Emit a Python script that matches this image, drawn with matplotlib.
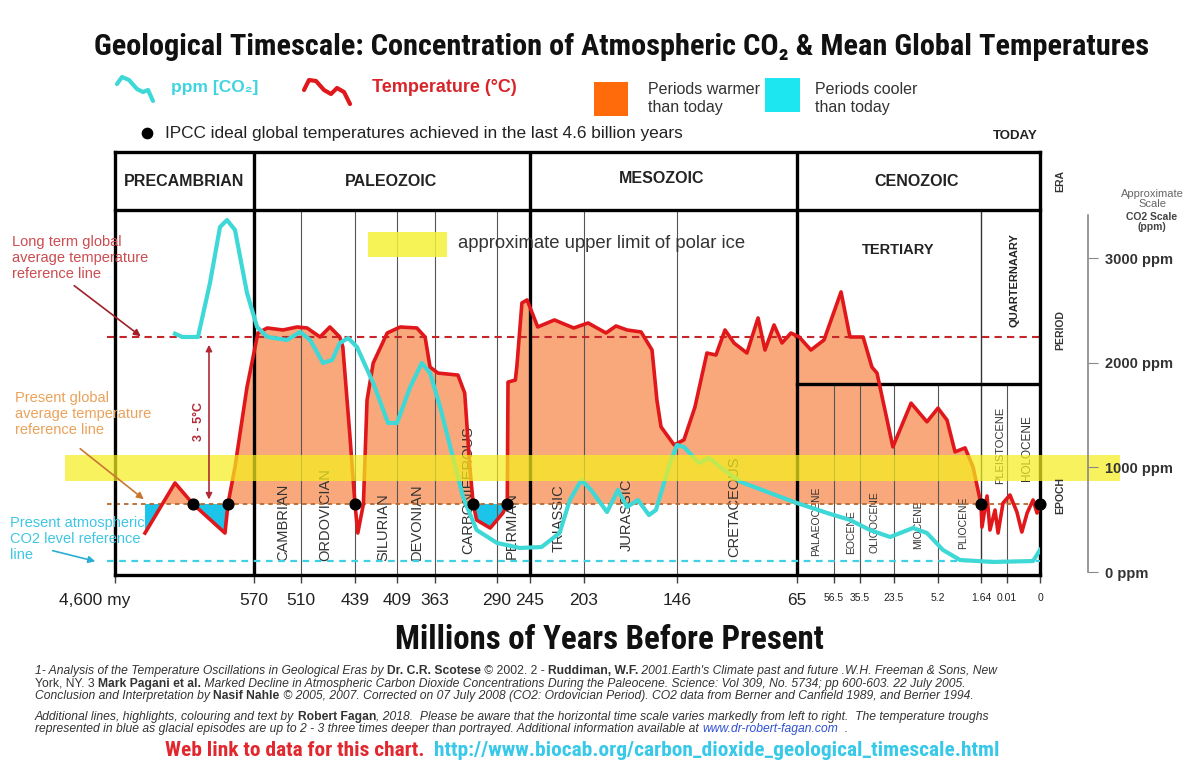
import numpy as np
import matplotlib
matplotlib.use("Agg")
import matplotlib.pyplot as plt
from matplotlib import font_manager
from matplotlib.patches import Rectangle
from matplotlib.ticker import NullLocator
from matplotlib.transforms import ScaledTranslation

W, H = 1189, 778


def has_font(name):
    try:
        font_manager.findfont(font_manager.FontProperties(family=name),
                              fallback_to_default=False)
        return True
    except Exception:
        return False


def first_font(names):
    for n in names:
        if has_font(n):
            return n
    return "Liberation Sans"


NARROW = first_font(["Liberation Sans Narrow", "Liberation Sans"])
COND = first_font(["Liberation Sans Narrow", "Roboto Condensed",
                   "Open Sans Condensed", "Liberation Sans"])
plt.rcParams["font.family"] = ["Liberation Sans", "DejaVu Sans"]

# ----------------------------------------------------------------------------
# Data (ages in millions of years before present)
# ----------------------------------------------------------------------------
BOUND_AGE = [4600, 570, 510, 439, 409, 363, 290, 245, 203, 146,
             65, 56.5, 35.5, 23.5, 5.2, 1.64, 0.01, 0]
BOUND_LABEL = ["4,600 my", "570", "510", "439", "409", "363", "290", "245",
               "203", "146", "65", "56.5", "35.5", "23.5", "5.2", "1.64",
               "0.01", "0"]
ERA_BOUNDS = [570, 245, 65]
PERIOD_BOUNDS = [510, 439, 409, 363, 290, 203, 146]
EPOCH_BOUNDS = [56.5, 35.5, 23.5, 5.2, 0.01]
QUAT_BOUND = 1.64

TEMP_AGE = [3730, 2861, 2339, 1411, 1324, 1121, 773,
            565, 553, 533, 515, 502, 485, 472, 459, 455, 446, 439, 437, 433, 430.4, 426, 416,
            405, 385, 375, 369, 359.5, 336, 328, 322, 318, 314, 298, 282, 276, 275, 265, 263, 256, 249,
            239, 226, 211, 200.5, 189.5, 183.4, 176.6, 168, 161.3, 158.3, 155.8, 147.8,
            141.3, 133.9, 125.8, 119.7, 113.6, 107.5, 98.8, 91.3, 86.6, 80.5, 75.1, 69.1,
            64.5, 61.8, 58.8, 50.8, 43.6, 34.4, 31.3, 29.5, 23.9, 16.4, 9.8, 5.2, 4.45, 3.79, 2.96, 2.30, 1.64,
            1.58, 1.26, 1.08, 0.76, 0.57, 0.26, 0.0091, 0.0070, 0.0055, 0.0039, 0.0021, 0.0009, 0]
TEMP_C = [13.13, 14.63, 14.0, 13.13, 14.0, 15.11, 17.50,
          19.12, 19.27, 19.21, 19.30, 19.27, 19.0, 19.30, 19.0, 18.70, 16.13, 14.0, 13.13, 14.0, 17.11, 18.22, 19.12,
          19.30, 19.27, 19.0, 18.10, 17.92, 17.86, 17.32, 15.11, 14.0, 13.52, 13.28, 13.73, 14.0, 17.65, 17.71, 18.10, 20.02, 20.11,
          19.30, 19.51, 19.27, 19.42, 19.12, 19.33, 19.21, 19.15, 18.61, 17.11, 16.31, 15.77,
          15.92, 16.90, 18.52, 18.46, 19.21, 18.82, 18.52, 19.57, 18.61, 19.36, 18.82, 19.12,
          19.0, 18.61, 18.91, 20.35, 19.0, 19.0, 18.10, 17.92, 15.71, 17.02, 16.46, 16.87, 16.51, 15.56, 15.68, 15.11, 14.0,
          13.31, 14.24, 13.22, 13.82, 13.13, 14.03, 14.27, 13.76, 13.16, 13.73, 14.12, 13.73, 13.97]

CO2_AGE = [2861, 2650, 2194, 1846, 1556, 1353, 1121, 773,
           566, 553, 528, 511, 498, 481, 469, 459, 448, 437.6, 426, 415.4, 409, 393, 379, 369,
           357, 345, 330, 314, 290, 259, 236, 222, 214, 205,
           198.7, 188.9, 182.2, 176.6, 169.9, 163.2, 158.9, 150.3, 146, 141.3, 131.2, 124.4, 114.3, 102.8, 83.2, 65,
           58.1, 43.6, 32.0, 24.9, 15.6, 9.8, 4.79, 3.38, 0.89, 0.0021, 0]
CO2_PPM = [2280, 2249, 2249, 2766, 3301, 3368, 3273, 2670,
           2344, 2249, 2220, 2297, 2220, 2000, 2029, 2191, 2239, 2153, 1809, 1426, 1426, 1770, 2000, 1904,
           1579, 1196, 718, 402, 278, 230, 239, 373, 689, 880,
           785, 574, 785, 622, 689, 545, 593, 1043, 1215, 1196, 1043, 1091, 976, 861, 756, 660,
           565, 498, 402, 335, 421, 373, 211, 115, 96, 105, 211]

IPCC_AGE = [2339, 1324, 439, 318, 276, 1.64, 0]
PRESENT_T = 14.0
LONGTERM_T = 19.0
PRESENT_CO2 = 105
ICE_T = (14.69, 15.47)
PPM_TICKS = [0, 1000, 2000, 3000]

assert len(TEMP_AGE) == len(TEMP_C)
assert len(CO2_AGE) == len(CO2_PPM)

# ----------------------------------------------------------------------------
# Layout (pixel positions on the 1189 x 778 canvas)
# ----------------------------------------------------------------------------
BOUND_PX = [115, 254, 301, 355, 397, 435, 497, 530, 584, 677,
            797, 834, 860, 894, 938, 981, 1007, 1040]
AX_L, AX_T, AX_R, AX_B = 115, 152, 1040, 575
ROW_Y, EPOCH_Y = 210, 384
T_LIM = (11.874, 24.539)
PPM_LIM = (-28.7, 4019)

_age_asc = np.array(BOUND_AGE[::-1], dtype=float)
_dist_asc = np.array([AX_R - p for p in BOUND_PX[::-1]], dtype=float)


def fwd(a):
    return np.interp(a, _age_asc, _dist_asc)


def inv(d):
    return np.interp(d, _dist_asc, _age_asc)


def frac_y(py):
    return (AX_B - py) / (AX_B - AX_T)


ORANGE_FILL = "#f9a87c"
CYAN_FILL = "#1cc4ea"
RED = "#e0181c"
CYAN = "#3ed8d6"
GREY = "#333333"

fig = plt.figure(figsize=(W / 100, H / 100), dpi=100)
fig.patch.set_facecolor("white")
renderer = fig.canvas.get_renderer()


def fit(texts, width):
    """Scale font sizes so that a text (or a chain of texts) spans width px."""
    if not isinstance(texts, list):
        texts = [texts]
    x0 = min(t.get_window_extent(renderer).x0 for t in texts)
    x1 = max(t.get_window_extent(renderer).x1 for t in texts)
    k = width / (x1 - x0)
    for t in texts:
        t.set_fontsize(t.get_fontsize() * k)
    return texts[0].get_fontsize()


lay = fig.add_axes([0, 0, 1, 1], zorder=10)
lay.set_xlim(0, W)
lay.set_ylim(H, 0)
lay.axis("off")
lay.patch.set_visible(False)

ax = fig.add_axes([AX_L / W, 1 - AX_B / H, (AX_R - AX_L) / W, (AX_B - AX_T) / H])
ax.set_xscale("function", functions=(fwd, inv))
ax.set_xlim(4600, 0)
ax.set_ylim(*T_LIM)
ax.patch.set_visible(False)
for s in ax.spines.values():
    s.set_linewidth(2.4)
    s.set_color("black")

# fills relative to present-day temperature
t = np.array(TEMP_C)
a = np.array(TEMP_AGE)
ax.fill_between(a, t, PRESENT_T, where=t >= PRESENT_T, interpolate=True,
                color=ORANGE_FILL, lw=0, zorder=1)
glacial = (t <= PRESENT_T) & ((a > 570) | ((a < 330) & (a > 260)))
ax.fill_between(a, t, PRESENT_T, where=glacial, interpolate=True,
                color=CYAN_FILL, lw=0, zorder=1)

# grid of eras / periods / epochs
row = frac_y(ROW_Y)
ep = frac_y(EPOCH_Y)
for b in ERA_BOUNDS:
    ax.axvline(b, color="black", lw=2.4, zorder=3)
for b in PERIOD_BOUNDS:
    ax.axvline(b, ymax=row, color="#555555", lw=0.8, zorder=1.5)
ax.axvline(QUAT_BOUND, ymax=row, color="#333333", lw=1.0, zorder=1.5)
for b in EPOCH_BOUNDS:
    ax.axvline(b, ymax=ep, color="#555555", lw=0.8, zorder=1.5)
ax.plot([0, 1], [row, row], transform=ax.transAxes, color="black", lw=2.4,
        zorder=3, clip_on=False)
ax.plot([65, 0], [ep, ep], transform=ax.get_xaxis_transform(), color="black",
        lw=2.4, zorder=3)

# reference lines
xmin_ext = (107 - AX_L) / (AX_R - AX_L)
ax.axhline(LONGTERM_T, xmin=xmin_ext, color="#c4262c", lw=1.5,
           ls=(0, (3.5, 2.5)), zorder=2.5, clip_on=False)
ax.axhline(PRESENT_T, xmin=xmin_ext, color="#b8692c", lw=1.3,
           ls=(0, (2.5, 2.2)), zorder=2.5, clip_on=False)

# rotated period / epoch names
names = [("CAMBRIAN", 283, 522, 10.5), ("ORDOVICIAN", 325, 515, 10.5),
         ("SILURIAN", 383, 527, 10.5), ("DEVONIAN", 417, 522, 10.5),
         ("CARBONIFEROUS", 468, 490, 10.5), ("PERMIAN", 512, 526, 10.5),
         ("TRIASSIC", 559, 518, 10.5), ("JURASSIC", 627, 515, 10.5),
         ("CRETACEOUS", 734, 507, 10.5), ("PALAEOCENE", 816, 521, 7.5),
         ("EOCENE", 851, 532, 7.5), ("OLIGOCENE", 874, 522, 7.5),
         ("MIOCENE", 918, 525, 7.5), ("PLIOCENE", 963, 523, 7.5),
         ("PLEISTOCENE", 1000, 445, 8), ("HOLOCENE", 1027, 448, 8.5)]
for nm, x, y, fs in names:
    ax.text(x, y, nm, transform=lay.transData, rotation=90, ha="center",
            va="center", fontsize=fs, color=GREY, family=NARROW, zorder=2)

ax.plot(a, t, color=RED, lw=2.6, zorder=4, solid_joinstyle="round")

# bottom ticks
ax.set_xticks(BOUND_AGE)
ax.set_xticklabels(BOUND_LABEL)
ax.xaxis.set_minor_locator(NullLocator())
ax.tick_params(axis="x", direction="out", length=6, width=1, color="#444444",
               pad=7)
for lab, age in zip(ax.get_xticklabels(), BOUND_AGE):
    lab.set_family(NARROW)
    lab.set_color("#222222")
    lab.set_fontsize(12.5 if age >= 65 else 7.5)
    if age == 4600:
        lab.set_transform(lab.get_transform() +
                          ScaledTranslation(-0.2, 0, fig.dpi_scale_trans))

# CO2 on its own scale
cax = ax.twinx()
cax.set_ylim(*PPM_LIM)
cax.axis("off")
cax.axhline(PRESENT_CO2, xmin=xmin_ext, color="#3fd0e4", lw=1.6,
            ls=(0, (3, 2.5)), clip_on=False)
cax.plot(CO2_AGE, CO2_PPM, color=CYAN, lw=3.0, solid_joinstyle="round")

# ice band, IPCC dots, 3-5 C arrow
bax = ax.twinx()
bax.set_ylim(*T_LIM)
bax.axis("off")
bax.axhspan(ICE_T[0], ICE_T[1], xmin=(65 - AX_L) / (AX_R - AX_L),
            xmax=(1120 - AX_L) / (AX_R - AX_L), color="#f5ee1e", alpha=0.72,
            lw=0, clip_on=False)
bax.scatter(IPCC_AGE, [PRESENT_T] * len(IPCC_AGE), s=60, color="black",
            zorder=5, clip_on=False)
bax.annotate("", xy=(1875, PRESENT_T + 0.05), xytext=(1875, LONGTERM_T - 0.15),
             arrowprops=dict(arrowstyle="<|-|>", color="#b02a36", lw=1.2,
                             mutation_scale=9))

# twinx turns the host's left ticks back on
ax.tick_params(axis="y", left=False, right=False, labelleft=False,
               labelright=False)

# CO2 scale on the right
sax = fig.add_axes([1080 / W, 1 - AX_B / H, 8 / W, (AX_B - AX_T) / H])
sax.set_ylim(*PPM_LIM)
sax.patch.set_visible(False)
for k in ["left", "top", "bottom"]:
    sax.spines[k].set_visible(False)
sax.spines["right"].set_color("#888888")
sax.spines["right"].set_linewidth(1.2)
sax.spines["right"].set_bounds(0, 3416)
sax.set_xticks([])
sax.yaxis.tick_right()
sax.set_yticks(PPM_TICKS)
sax.set_yticklabels([f"{v} ppm" for v in PPM_TICKS])
sax.tick_params(axis="y", direction="out", length=7, color="#888888", pad=5,
                labelsize=10.5, labelcolor=GREY)
for lab in sax.get_yticklabels():
    lab.set_fontweight("bold")

# ----------------------------------------------------------------------------
# Text layer
# ----------------------------------------------------------------------------
title = lay.text(622, 47, "Geological Timescale: Concentration of Atmospheric CO\u2082 & Mean Global Temperatures",
                 ha="center", va="center", fontsize=20, fontweight="bold",
                 family=[COND, "DejaVu Sans"], color="#111111")
fit(title, 1055)

lay.plot([117, 122, 129, 137, 143, 148, 153], [84, 77, 80, 89, 92, 90, 101],
         color=CYAN, lw=3, solid_capstyle="round")
lay.text(171, 87, "ppm [CO\u2082]", ha="left", va="center", fontsize=12.5,
         fontweight="bold", color="#40d4e0", family=[NARROW, "DejaVu Sans"])
lay.plot([304, 309, 316, 324, 331, 337, 344, 350], [90, 80, 81, 90, 94, 88, 92, 104],
         color=RED, lw=3, solid_capstyle="round")
lay.text(372, 87, "Temperature (\u00b0C)", ha="left", va="center",
         fontsize=13, fontweight="bold", color="#d8252a", family=NARROW)

lay.add_patch(Rectangle((594, 82), 34, 34, color="#ff6a0a", lw=0))
lay.text(648, 98, "Periods warmer\nthan today", ha="left", va="center",
         fontsize=11.5, color=GREY, linespacing=1.25)
lay.add_patch(Rectangle((765, 78), 35, 34, color="#1ee6f0", lw=0))
lay.text(815, 98, "Periods cooler\nthan today", ha="left", va="center",
         fontsize=11.5, color=GREY, linespacing=1.25)

lay.scatter([147], [133], s=55, color="black")
ipcc = lay.text(165, 133, "IPCC ideal global temperatures achieved in the last 4.6 billion years",
                ha="left", va="center", fontsize=9.5, color="#222222")
fit(ipcc, 518)
lay.text(1038, 136, "TODAY", ha="right", va="center", fontsize=9.5,
         fontweight="bold", color="#222222")

for nm, x, y in [("PRECAMBRIAN", 184, 181), ("PALEOZOIC", 391, 181),
                 ("MESOZOIC", 662, 178), ("CENOZOIC", 917, 181)]:
    lay.text(x, y, nm, ha="center", va="center", fontsize=11.5,
             fontweight="bold", family=NARROW, color="#222222")
lay.text(898, 250, "TERTIARY", ha="center", va="center", fontsize=10.5,
         fontweight="bold", family=NARROW, color="#222222")
lay.text(1014, 280, "QUARTERNAARY", ha="center", va="center", rotation=90,
         fontsize=8, fontweight="bold", family=NARROW, color="#222222")
for nm, y in [("ERA", 181), ("PERIOD", 330), ("EPOCH", 495)]:
    lay.text(1060, y, nm, ha="center", va="center", rotation=90, fontsize=7.5,
             fontweight="bold", color="#333333")

lay.text(1152, 199, "Approximate\nScale", ha="center", va="center",
         fontsize=8, color="#666666", linespacing=1.1)
lay.text(1152, 222, "CO2 Scale\n(ppm)", ha="center", va="center",
         fontsize=7.5, fontweight="bold", color="#444444", linespacing=1.1)

lay.add_patch(Rectangle((368, 232), 79, 25, color="#f5f23a", alpha=0.85, lw=0))
polar = lay.text(458, 243, "approximate upper limit of polar ice", ha="left",
                 va="center", fontsize=11.5, color="#333333")
fit(polar, 290)

lay.text(199, 421, "3 - 5\u00b0C", rotation=90, ha="center", va="center",
         fontsize=9, fontweight="bold", color="#b02a36")

# left side notes with arrows
lay.text(12, 258, "Long term global\naverage temperature\nreference line",
         ha="left", va="center", fontsize=10.5, color="#cc4c50",
         linespacing=1.15)
lay.annotate("", xy=(143, 338), xytext=(72, 284),
             arrowprops=dict(arrowstyle="-|>", color="#a0202a", lw=1.2,
                             mutation_scale=10))
lay.text(15, 414, "Present global\naverage temperature\nreference line",
         ha="left", va="center", fontsize=10.5, color="#eaa25a",
         linespacing=1.15)
lay.annotate("", xy=(146, 501), xytext=(78, 447),
             arrowprops=dict(arrowstyle="-|>", color="#c8782e", lw=1.2,
                             mutation_scale=10))
lay.text(10, 539, "Present atmospheric\nCO2 level reference\nline",
         ha="left", va="center", fontsize=10.5, color="#3ec6e4",
         linespacing=1.15)
lay.annotate("", xy=(98, 562), xytext=(50, 550),
             arrowprops=dict(arrowstyle="-|>", color="#2aaed4", lw=1.2,
                             mutation_scale=10))

xlab = lay.text(609, 640, "Millions of Years Before Present", ha="center",
                va="center", fontsize=20, fontweight="bold",
                family=COND, color="#111111")
fit(xlab, 427)


def rich(x, y, parts, size, family):
    out = []
    for s, w, st, col in parts:
        kw = dict(fontsize=size, family=family, fontweight=w, fontstyle=st,
                  color=col, ha="left", va="bottom")
        if not out:
            out.append(lay.text(x, y, s, **kw))
        else:
            out.append(lay.annotate(s, xy=(1, 0), xycoords=out[-1], **kw))
    return out


N, B = "normal", "bold"
I, R = "italic", "normal"
TC = "#333333"
FN = "Liberation Sans"
l1 = rich(35, 677, [("1- Analysis of the Temperature Oscillations in Geological Eras by ", N, I, TC),
                    ("Dr. C.R. Scotese", B, R, TC), (" \u00a9 2002. 2 - ", N, R, TC),
                    ("Ruddiman, W.F.", B, R, TC),
                    (" 2001.Earth's Climate past and future .W.H. Freeman & Sons, New", N, I, TC)], 8.2, FN)
FS = fit(l1, 965)
rich(35, 690, [("York, NY. 3 ", N, R, TC), ("Mark Pagani et al.", B, R, TC),
               (" Marked Decline in Atmospheric Carbon Dioxide Concentrations During the Paleocene. Science: Vol 309, No. 5734; pp 600-603. 22 July 2005.", N, I, TC)], FS, FN)
rich(35, 702, [("Conclusion and Interpretation by ", N, I, TC), ("Nasif Nahle", B, R, TC),
               (" \u00a9 2005, 2007. Corrected on 07 July 2008 (CO2: Ordovician Period). CO2 data from Berner and Canfield 1989, and Berner 1994.", N, I, TC)], FS, FN)
rich(35, 723, [("Additional lines, highlights, colouring and text by ", N, I, TC),
               ("Robert Fagan", B, R, TC),
               (", 2018.  Please be aware that the horizontal time scale varies markedly from left to right.  The temperature troughs", N, I, TC)], FS, FN)
rich(35, 735, [("represented in blue as glacial episodes are up to 2 - 3 three times deeper than portrayed. Additional information available at ", N, I, TC),
               ("www.dr-robert-fagan.com", N, I, "#3050d0"), ("  .", N, I, TC)], FS, FN)
l6 = rich(165, 760, [("Web link to data for this chart.  ", B, R, "#e0282e"),
                     ("http://www.biocab.org/carbon_dioxide_geological_timescale.html", B, R, "#38c8e8")], 12.5, COND)
fit(l6, 835)

fig.savefig("out.png", dpi=100, facecolor="white")
